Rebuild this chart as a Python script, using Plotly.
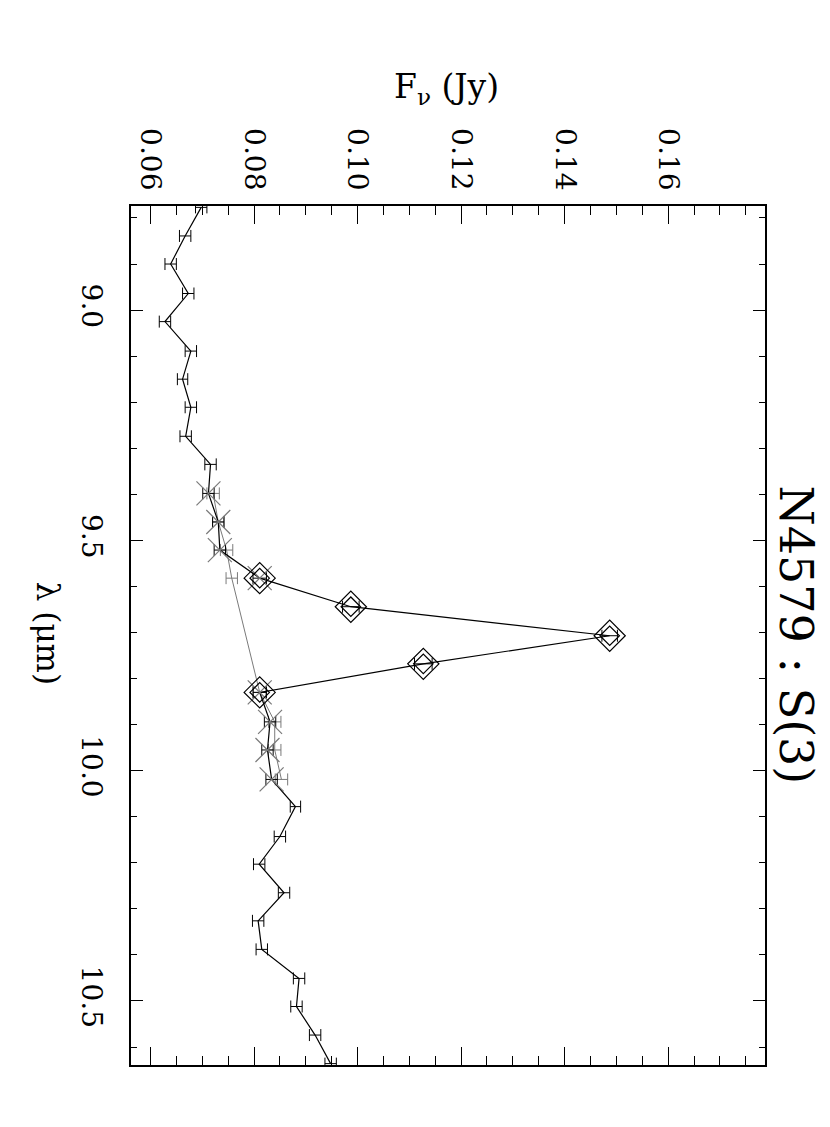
import plotly.graph_objects as go

# ---- data (wavelength in micron, flux density in Jy) ----
lam = [8.777, 8.839, 8.900, 8.964, 9.025, 9.089, 9.150, 9.211, 9.274, 9.335,
       9.398, 9.460, 9.521, 9.582, 9.644, 9.707, 9.768, 9.830, 9.894, 9.955,
       10.019, 10.078, 10.143, 10.203, 10.265, 10.326, 10.388, 10.451, 10.512,
       10.574, 10.636]
flux = [0.0698, 0.0667, 0.0639, 0.0673, 0.0628, 0.0678, 0.0662, 0.0678, 0.0668, 0.0716,
        0.0712, 0.0731, 0.0734, 0.0811, 0.0987, 0.1487, 0.1127, 0.0811, 0.0831, 0.0826,
        0.0834, 0.0880, 0.0850, 0.0810, 0.0858, 0.0808, 0.0815, 0.0887, 0.0882,
        0.0918, 0.0948]
flux_err = [0.0011, 0.0011, 0.0011, 0.0011, 0.0011, 0.0011, 0.0010, 0.0011, 0.0011, 0.0011,
            0.0011, 0.0011, 0.0011, 0.0013, 0.0016, 0.0015, 0.0017, 0.0013, 0.0011, 0.0011,
            0.0011, 0.0010, 0.0011, 0.0011, 0.0011, 0.0011, 0.0011, 0.0011, 0.0011,
            0.0011, 0.0011]

# continuum-window points (grey)
cont_lam = [9.398, 9.460, 9.521, 9.582, 9.830, 9.894, 9.955, 10.019]
cont_flux = [0.0721, 0.0731, 0.0747, 0.0757, 0.0811, 0.0840, 0.0840, 0.0853]
cont_err = [0.0012, 0.0011, 0.0012, 0.0011, 0.0012, 0.0012, 0.0012, 0.0012]

# observed points used for the continuum fit (grey crosses)
fit_lam = [9.398, 9.460, 9.521, 9.582, 9.830, 9.894, 9.955, 10.019]
fit_flux = [0.0712, 0.0731, 0.0734, 0.0811, 0.0811, 0.0831, 0.0826, 0.0834]

# line channels (double diamonds)
line_lam = [9.582, 9.644, 9.707, 9.768, 9.830]
line_flux = [0.0811, 0.0987, 0.1487, 0.1127, 0.0811]

FONT = "DejaVu Serif"
GREY = "#7a7a7a"

fig = go.Figure()

fig.add_trace(go.Scatter(
    x=cont_flux, y=cont_lam, mode="lines",
    line=dict(color=GREY, width=1),
    error_x=dict(type="data", array=cont_err, color=GREY, thickness=1, width=6),
))
fig.add_trace(go.Scatter(
    x=flux, y=lam, mode="lines",
    line=dict(color="black", width=1.2),
    error_x=dict(type="data", array=flux_err, color="black", thickness=1, width=6),
))
fig.add_trace(go.Scatter(
    x=fit_flux, y=fit_lam, mode="markers",
    marker=dict(symbol="x-thin-open", size=24, color=GREY, line=dict(color=GREY, width=1.2)),
))
fig.add_trace(go.Scatter(
    x=line_flux, y=line_lam, mode="markers",
    marker=dict(symbol="diamond-open", size=24, color="black", line=dict(color="black", width=1.2)),
))
fig.add_trace(go.Scatter(
    x=line_flux, y=line_lam, mode="markers",
    marker=dict(symbol="diamond-open", size=15, color="black", line=dict(color="black", width=1.2)),
))

axis_common = dict(
    ticks="inside", tickcolor="black", tickwidth=1,
    showline=True, linecolor="black", linewidth=1.5, mirror="allticks",
    showgrid=False, zeroline=False, tickangle=90,
    tickfont=dict(family=FONT, size=28, color="black"),
)

fig.update_layout(
    width=830, height=1127,
    margin=dict(l=123, r=73, t=198, b=70),
    plot_bgcolor="white", paper_bgcolor="white",
    showlegend=False,
    xaxis=dict(
        side="top", range=[0.05624, 0.1787], tick0=0.06, dtick=0.02,
        tickformat=".2f", ticklen=18, ticklabelstandoff=4,
        minor=dict(tick0=0.06, dtick=0.005, ticks="inside", ticklen=9,
                   tickcolor="black", tickwidth=1, showgrid=False),
        **axis_common,
    ),
    yaxis=dict(
        range=[10.639, 8.774], tick0=9.0, dtick=0.5,
        tickformat=".1f", ticklen=12, ticklabelstandoff=14,
        minor=dict(tick0=9.0, dtick=0.1, ticks="inside", ticklen=6,
                   tickcolor="black", tickwidth=1, showgrid=False),
        **axis_common,
    ),
    annotations=[
        dict(text="F<sub>ν</sub> (Jy)", xref="paper", yref="paper", x=0.498, y=1.137,
             showarrow=False, font=dict(family=FONT, size=33, color="black"),
             xanchor="center", yanchor="middle"),
        dict(text="λ (μm)", xref="paper", yref="paper", x=-0.131, y=0.502,
             showarrow=False, textangle=90, font=dict(family=FONT, size=31, color="black"),
             xanchor="center", yanchor="middle"),
        dict(text="N4579 : S(3)", xref="paper", yref="paper", x=1.049, y=0.501,
             showarrow=False, textangle=90, font=dict(family=FONT, size=46, color="black"),
             xanchor="center", yanchor="middle"),
    ],
)

fig.write_html("out.html")
